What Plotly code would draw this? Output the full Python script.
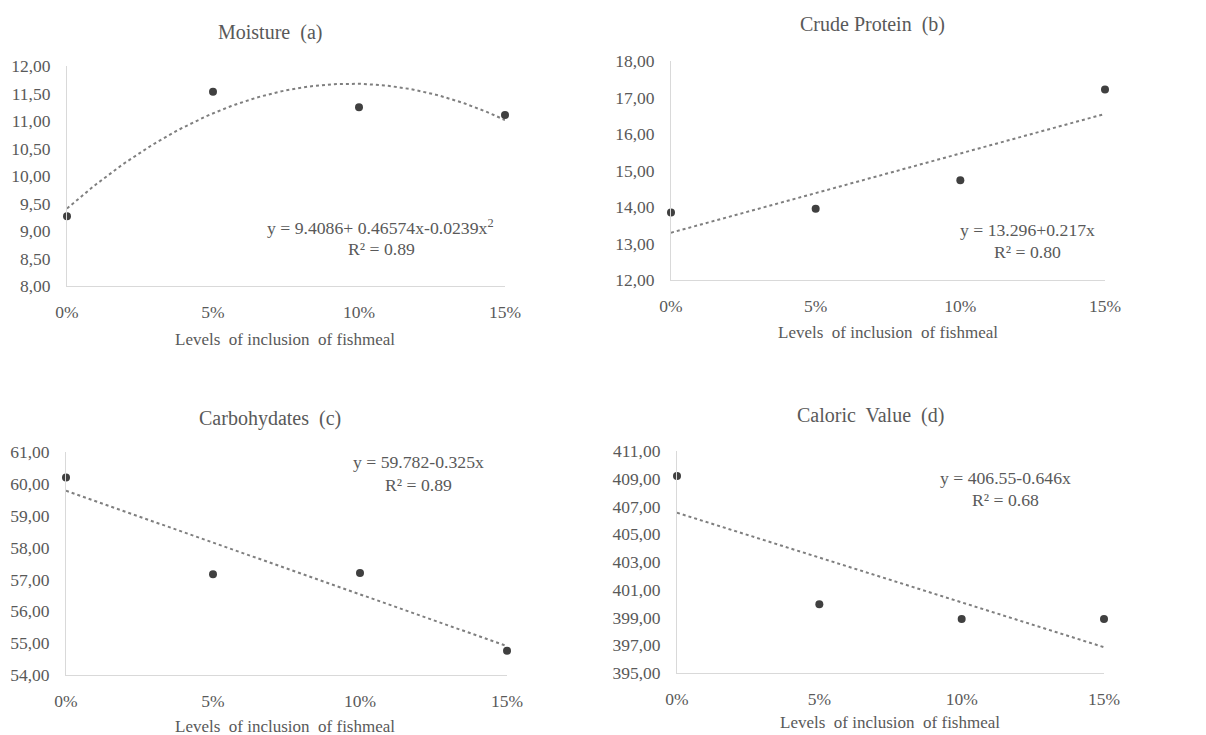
import numpy as np
import plotly.graph_objects as go

# ---- data ----
levels = [0, 5, 10, 15]
level_labels = ["0%", "5%", "10%", "15%"]

moisture = [9.27, 11.53, 11.25, 11.11]
crude_protein = [13.85, 13.95, 14.73, 17.22]
carbohydrates = [60.20, 57.16, 57.20, 54.76]
caloric_value = [409.20, 399.95, 398.90, 398.90]

# regression coefficients shown on the chart (c0, c1, c2)
coef_moisture = [9.4086, 0.46574, -0.0239]
coef_protein = [13.296, 0.217, 0.0]
coef_carbo = [59.782, -0.325, 0.0]
coef_caloric = [406.55, -0.646, 0.0]

ticks_moisture = [8.0, 8.5, 9.0, 9.5, 10.0, 10.5, 11.0, 11.5, 12.0]
ticks_protein = [12, 13, 14, 15, 16, 17, 18]
ticks_carbo = [54, 55, 56, 57, 58, 59, 60, 61]
ticks_caloric = [395, 397, 399, 401, 403, 405, 407, 409, 411]

titles = ["Moisture  (a)", "Crude Protein  (b)", "Carbohydates  (c)", "Caloric  Value  (d)"]
eq_texts = [
    "y = 9.4086+ 0.46574x-0.0239x<sup>2</sup>",
    "y = 13.296+0.217x",
    "y = 59.782-0.325x",
    "y = 406.55-0.646x",
]
r2_texts = ["R² = 0.89", "R² = 0.80", "R² = 0.89", "R² = 0.68"]
xlabel = "Levels  of inclusion  of fishmeal"

# ---- layout geometry (page pixels; the page body has an 8px margin) ----
OFF = 8
W, H = 1206 - OFF, 735 - OFF
FONT = "Liberation Serif"
TXT = "#595959"

panels = [
    dict(y=moisture, coef=coef_moisture, ticks=ticks_moisture,
         px=(67, 505), py=(66, 286), title=(270, 32), xl=(285, 339),
         eq=(380, 227), r2=(382, 249)),
    dict(y=crude_protein, coef=coef_protein, ticks=ticks_protein,
         px=(671, 1105), py=(61, 280), title=(872, 25), xl=(888, 332),
         eq=(1027, 230), r2=(1027, 252)),
    dict(y=carbohydrates, coef=coef_carbo, ticks=ticks_carbo,
         px=(66, 507), py=(452, 675), title=(270, 418), xl=(285, 726),
         eq=(418, 462), r2=(418, 485)),
    dict(y=caloric_value, coef=coef_caloric, ticks=ticks_caloric,
         px=(677, 1104), py=(451, 673), title=(870, 415), xl=(890, 722),
         eq=(1005, 478), r2=(1005, 500)),
]


def fx(v):
    return (v - OFF) / W


def fy(v):
    return 1 - (v - OFF) / H


fig = go.Figure()
annotations = []
layout = {}

xfit = np.linspace(0, 15, 121)

for i, p in enumerate(panels):
    n = "" if i == 0 else str(i + 1)
    xa, ya = "x" + n, "y" + n
    c = p["coef"]
    yfit = c[0] + c[1] * xfit + c[2] * xfit ** 2
    fig.add_trace(go.Scatter(
        x=xfit, y=yfit, mode="lines", xaxis=xa, yaxis=ya,
        line=dict(color="#7f7f7f", width=2, dash="dot"),
        hoverinfo="skip", showlegend=False, cliponaxis=False))
    fig.add_trace(go.Scatter(
        x=levels, y=p["y"], mode="markers", xaxis=xa, yaxis=ya,
        marker=dict(color="#404040", size=8),
        showlegend=False, cliponaxis=False))

    t = p["ticks"]
    layout["xaxis" + n] = dict(
        domain=[fx(p["px"][0]), fx(p["px"][1])], anchor=ya, automargin=False,
        range=[0, 15], tickvals=levels, ticktext=level_labels,
        showgrid=False, zeroline=False, showline=True, linecolor="#d9d9d9",
        linewidth=1, ticks="", ticklabelstandoff=10,
        tickfont=dict(family=FONT, size=17.5, color=TXT), fixedrange=True)
    layout["yaxis" + n] = dict(
        domain=[fy(p["py"][1]), fy(p["py"][0])], anchor=xa, automargin=False,
        range=[t[0], t[-1]], tickvals=t,
        ticktext=[f"{v:.2f}".replace(".", ",") for v in t],
        showgrid=False, zeroline=False, showline=True, linecolor="#d9d9d9",
        linewidth=1, ticks="", ticklabelstandoff=12,
        tickfont=dict(family=FONT, size=17.5, color=TXT), fixedrange=True)

    def ann(text, pos, size):
        return dict(text=text, x=fx(pos[0]), y=fy(pos[1]), xref="paper", yref="paper",
                    xanchor="center", yanchor="middle", showarrow=False,
                    font=dict(family=FONT, size=size, color=TXT))

    annotations.append(ann(titles[i], p["title"], 20))
    annotations.append(ann(xlabel, p["xl"], 17))
    annotations.append(ann(eq_texts[i], p["eq"], 17.7))
    annotations.append(ann(r2_texts[i], p["r2"], 17.7))

fig.update_layout(
    width=W, height=H, margin=dict(l=0, r=0, t=0, b=0, pad=0),
    paper_bgcolor="white", plot_bgcolor="white",
    annotations=annotations, **layout)

fig.write_html("out.html")
